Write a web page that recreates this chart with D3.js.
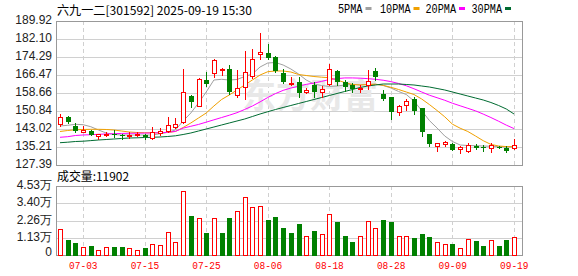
<!DOCTYPE html>
<html>
<head>
<meta charset="utf-8">
<script src="https://cdn.jsdelivr.net/npm/d3@7"></script>
<style>
  body { margin: 0; background: #fff; }
  svg { display: block; }
</style>
</head>
<body>
<svg id="chart" width="578" height="276"></svg>
<script>
// trading days shown in the chart
var dates = ["06-30","07-01","07-02","07-03","07-04","07-07","07-08","07-09","07-10","07-11",
  "07-14","07-15","07-16","07-17","07-18","07-21","07-22","07-23","07-24","07-25",
  "07-28","07-29","07-30","07-31","08-01","08-04","08-05","08-06","08-07","08-08",
  "08-11","08-12","08-13","08-14","08-15","08-18","08-19","08-20","08-21","08-22",
  "08-25","08-26","08-27","08-28","08-29","09-01","09-02","09-03","09-04","09-05",
  "09-08","09-09","09-10","09-11","09-12","09-15","09-16","09-17","09-18","09-19"];

// close of the day before the first one shown
var prevClose = 145.0;

// daily OHLC
var opens = [145.07,148.3,144.47,141.9,142.2,139.8,140.5,140.9,140.3,140.0,
  140.3,140.4,139.3,141.1,142.1,144.0,146.2,157.2,153.1,164.3,
  167.5,168.5,168.9,157.8,161.4,166.2,175.5,175.9,174.2,167.3,
  162.4,163.4,158.96,162.1,159.0,162.4,168.2,163.6,162.0,160.3,
  162.0,168.2,158.2,157.1,150.5,153.4,156.1,152.0,140.9,135.6,
  136.5,136.6,134.5,133.5,135.6,135.1,134.6,135.4,134.9,134.8];
var highs = [149.41,148.5,145.5,144.2,142.5,141.0,141.8,142.7,140.8,141.8,
  141.8,140.8,144.0,143.6,148.4,147.7,168.95,157.8,165.3,167.6,
  173.3,169.6,170.8,168.6,177.0,177.6,184.8,179.8,174.9,169.1,
  165.7,165.7,160.7,163.6,161.7,171.1,168.6,164.3,163.0,162.3,
  168.6,169.4,160.0,157.1,153.4,155.9,156.8,152.0,140.9,137.1,
  137.8,137.1,135.6,137.1,136.5,136.1,136.8,135.8,135.6,138.5];
var lows = [144.33,145.5,141.6,141.6,140.3,138.8,139.9,139.4,138.6,139.2,
  139.9,138.6,138.6,140.6,141.9,143.6,145.5,152.4,152.9,161.8,
  165.5,166.5,158.2,157.1,155.9,165.0,173.5,173.6,167.9,162.9,
  162.1,156.8,158.7,157.1,156.8,162.0,162.1,159.5,159.0,159.0,
  160.3,164.3,155.7,147.4,149.1,151.3,149.5,140.0,135.6,133.6,
  135.6,133.9,132.7,133.2,134.5,133.6,133.2,134.6,132.9,134.5];
var closes = [148.11,146.2,142.3,142.4,140.5,140.8,141.0,140.6,139.9,140.4,
  140.9,139.7,141.6,142.1,144.6,145.3,158.96,154.6,164.6,162.4,
  173.0,169.0,158.96,160.9,167.9,173.4,176.3,174.0,168.3,163.4,
  163.2,158.8,159.8,159.2,160.4,168.95,163.6,161.4,160.5,160.9,
  164.0,165.5,156.1,150.5,153.0,155.3,151.0,141.9,136.5,136.8,
  137.5,133.9,135.1,136.1,134.9,134.8,136.1,135.0,133.5,135.9];

// daily volume (hands)
var volumes = [16870,9850,7880,5050,5710,3090,5050,5250,5250,4400,
  3090,4600,7020,6370,14900,8530,41800,25600,24090,14440,
  24090,14440,24090,28690,37880,31310,31970,22980,24950,17730,
  14640,20350,12470,15760,13790,26920,21660,12470,8750,12470,
  22320,17510,22980,21660,12470,12470,10940,13790,11820,8530,
  7220,7220,4600,10290,9190,5910,9630,5910,9850,11902];

// moving averages as drawn
var ma5 = [144.33,144.63,145.06,144.89,144.02,142.59,141.29,140.63,140.42,140.42,
  140.42,140.42,140.42,140.98,141.59,142.59,146.50,149.97,154.31,159.09,
  164.30,164.60,164.30,164.52,165.82,166.91,169.95,171.68,171.90,170.81,
  169.08,166.91,164.30,162.56,161.91,161.48,161.69,162.13,162.35,162.13,
  162.35,162.43,161.91,160.83,159.31,158.00,155.18,151.06,146.71,143.46,
  139.98,137.59,136.07,135.86,135.77,135.64,135.51,135.42,135.21,135.34];
var ma10 = [141.94,142.37,142.67,142.81,142.89,142.89,142.81,142.59,142.15,141.72,
  141.50,141.42,141.37,141.37,141.50,141.94,143.67,145.63,147.80,149.97,
  153.01,155.83,157.79,159.96,162.13,164.30,166.47,167.90,168.21,168.21,
  167.77,166.69,166.25,165.82,165.52,165.30,164.30,163.21,162.35,162.13,
  162.35,162.48,162.00,161.13,160.17,159.09,158.00,156.05,153.66,151.06,
  148.32,145.11,143.37,141.94,139.98,137.94,136.34,135.64,135.39,135.29];
var ma20 = [139.42,139.68,140.20,140.42,140.55,140.72,140.85,140.98,141.10,141.16,
  141.20,141.25,141.30,141.40,141.60,142.00,143.40,144.20,145.00,146.00,
  147.00,148.00,149.00,150.10,151.50,153.00,154.80,156.70,158.40,159.80,
  160.80,161.60,162.40,163.00,163.70,164.50,164.90,165.20,165.20,165.10,
  164.90,164.60,164.20,163.60,162.80,161.80,160.50,159.10,157.70,156.60,
  155.50,154.20,153.10,152.00,150.90,149.50,148.00,146.40,144.70,143.20];
var ma30 = [137.07,137.29,137.59,137.72,137.98,138.25,138.46,138.68,138.90,139.11,
  139.20,139.33,139.42,139.55,139.77,140.07,140.63,141.29,142.15,143.02,
  143.89,144.76,145.63,146.50,147.36,148.45,149.54,150.53,151.49,152.36,
  153.23,154.10,154.96,155.83,156.70,157.57,158.44,159.31,160.17,161.04,
  161.69,162.13,162.56,162.56,162.56,162.35,162.13,161.69,161.26,160.61,
  159.96,159.09,158.22,157.35,156.48,155.62,154.53,153.23,151.71,149.54];

// axis ticks
var priceTicks = [127.39, 135.21, 143.02, 150.84, 158.66, 166.47, 174.29, 182.10, 189.92];
var volTicks = [0, 11325, 22650, 33975, 45300];
var volTickLabels = ["0", "1.13万", "2.26万", "3.40万", "4.53万"];
var dateTicks = ["07-03", "07-15", "07-25", "08-06", "08-18", "08-28", "09-09", "09-19"];

var maNames = ["5PMA", "10PMA", "20PMA", "30PMA"];
var maColors = ["#a0a0a0", "#f0a000", "#ff00ff", "#006b31"];
var maSeries = [ma5, ma10, ma20, ma30];

var upColor = "#ff0000";
var downColor = "#008000";
var gridColor = "#d0d0d0";
var frameColor = "#999999";

var svg = d3.select("#chart");

// layout
var left = 56, right = 522;
var priceTop = 21, priceBottom = 165;
var volTop = 186, volBottom = 255;

// scales
var x = d3.scalePoint().domain(dates).range([60, 514]);
var y = d3.scaleLinear().domain([127.39, 189.92]).range([priceBottom, priceTop]);
var vy = d3.scaleLinear().domain([0, 45300]).range([volBottom, volTop]);

function px(v) { return Math.round(v) + 0.5; }

// title
svg.append("text")
  .attr("x", 57).attr("y", 15)
  .attr("font-family", "'Noto Sans CJK SC', sans-serif")
  .attr("font-size", 12)
  .attr("textLength", 195)
  .attr("lengthAdjust", "spacingAndGlyphs")
  .attr("fill", "#000")
  .text("六九一二[301592] 2025-09-19 15:30");

// legend
var legendX = [338, 380, 425.5, 471.5];
maNames.forEach(function(name, i) {
  var w = name.length === 4 ? 24.5 : 30.5;
  svg.append("text")
    .attr("x", legendX[i]).attr("y", 13)
    .attr("font-family", "'Liberation Mono', monospace")
    .attr("font-size", 12)
    .attr("textLength", w)
    .attr("lengthAdjust", "spacingAndGlyphs")
    .attr("fill", "#000")
    .text(name);
  svg.append("rect")
    .attr("x", legendX[i] + w + 3).attr("y", 7)
    .attr("width", 6).attr("height", 3)
    .attr("fill", maColors[i]);
});

// horizontal grid lines + price labels
priceTicks.forEach(function(t) {
  svg.append("line")
    .attr("x1", left).attr("x2", right)
    .attr("y1", px(y(t))).attr("y2", px(y(t)))
    .attr("stroke", gridColor);
  svg.append("text")
    .attr("x", 52).attr("y", y(t))
    .attr("text-anchor", "end")
    .attr("dominant-baseline", "middle")
    .attr("font-family", "'Liberation Sans', Arial, sans-serif")
    .attr("font-size", 12)
    .attr("fill", "#222")
    .text(t.toFixed(2));
});

volTicks.forEach(function(t, i) {
  svg.append("line")
    .attr("x1", left).attr("x2", right)
    .attr("y1", px(vy(t))).attr("y2", px(vy(t)))
    .attr("stroke", gridColor);
  svg.append("text")
    .attr("x", 52).attr("y", vy(t) - (i === 0 ? 2 : 0))
    .attr("text-anchor", "end")
    .attr("dominant-baseline", "middle")
    .attr("font-family", "'Liberation Sans', Arial, sans-serif")
    .attr("font-size", 12)
    .attr("fill", "#222")
    .text(volTickLabels[i]);
});

// vertical dashed grid lines + date labels
dateTicks.forEach(function(d) {
  var cx = px(x(d));
  [[priceTop, priceBottom], [volTop, volBottom]].forEach(function(r) {
    svg.append("line")
      .attr("x1", cx).attr("x2", cx)
      .attr("y1", r[0]).attr("y2", r[1])
      .attr("stroke", gridColor)
      .attr("stroke-dasharray", "4,3");
  });
  svg.append("text")
    .attr("x", x(d) - 14).attr("y", 269)
    .attr("font-family", "'Liberation Mono', monospace")
    .attr("font-size", 11)
    .attr("textLength", 28.5)
    .attr("lengthAdjust", "spacingAndGlyphs")
    .attr("fill", upColor)
    .text(d);
});

// watermark
svg.append("text")
  .attr("x", 242).attr("y", 108)
  .attr("font-family", "'Noto Sans CJK SC', sans-serif")
  .attr("font-size", 34)
  .attr("font-weight", "bold")
  .attr("fill", "#e8e8e8")
  .text("东方财富");

// frames
svg.append("rect")
  .attr("x", left + 0.5).attr("y", priceTop + 0.5)
  .attr("width", right - left).attr("height", priceBottom - priceTop)
  .attr("fill", "none").attr("stroke", frameColor);
svg.append("rect")
  .attr("x", left + 0.5).attr("y", volTop + 0.5)
  .attr("width", right - left).attr("height", volBottom - volTop)
  .attr("fill", "none").attr("stroke", frameColor);

// moving average lines
maSeries.forEach(function(series, i) {
  var line = d3.line()
    .x(function(v, j) { return x(dates[j]); })
    .y(function(v) { return y(v); });
  svg.append("path")
    .attr("d", line(series))
    .attr("fill", "none")
    .attr("stroke", maColors[i])
    .attr("stroke-width", 1);
});

// candles
dates.forEach(function(d, i) {
  var c = Math.round(x(d));
  var up = closes[i] >= opens[i];
  var color = up ? upColor : downColor;
  var top = Math.round(y(Math.max(opens[i], closes[i])));
  var bot = Math.round(y(Math.min(opens[i], closes[i])));

  svg.append("line")
    .attr("x1", c + 0.5).attr("x2", c + 0.5)
    .attr("y1", Math.round(y(highs[i]))).attr("y2", Math.round(y(lows[i])) + 1)
    .attr("stroke", color);

  if (up) {
    svg.append("rect")
      .attr("x", c - 1.5).attr("y", top + 0.5)
      .attr("width", 4).attr("height", Math.max(bot - top, 1))
      .attr("fill", "#fff").attr("stroke", color);
  } else {
    svg.append("rect")
      .attr("x", c - 2).attr("y", top)
      .attr("width", 5).attr("height", Math.max(bot - top, 1))
      .attr("fill", color);
  }
});

// volume title
svg.append("text")
  .attr("x", 57).attr("y", 181)
  .attr("font-family", "'Noto Sans CJK SC', sans-serif")
  .attr("font-size", 12)
  .attr("textLength", 72)
  .attr("lengthAdjust", "spacingAndGlyphs")
  .attr("fill", "#000")
  .text("成交量:" + volumes[volumes.length - 1]);

// volume bars, coloured by the change from the previous close
dates.forEach(function(d, i) {
  var c = Math.round(x(d));
  var before = i === 0 ? prevClose : closes[i - 1];
  var up = closes[i] >= before;
  var top = Math.round(vy(volumes[i]));
  if (up) {
    svg.append("rect")
      .attr("x", c - 1.5).attr("y", top + 0.5)
      .attr("width", 4).attr("height", volBottom - top)
      .attr("fill", "#fff").attr("stroke", upColor);
  } else {
    svg.append("rect")
      .attr("x", c - 2).attr("y", top)
      .attr("width", 5).attr("height", volBottom - top + 1)
      .attr("fill", downColor);
  }
});
</script>
</body>
</html>
